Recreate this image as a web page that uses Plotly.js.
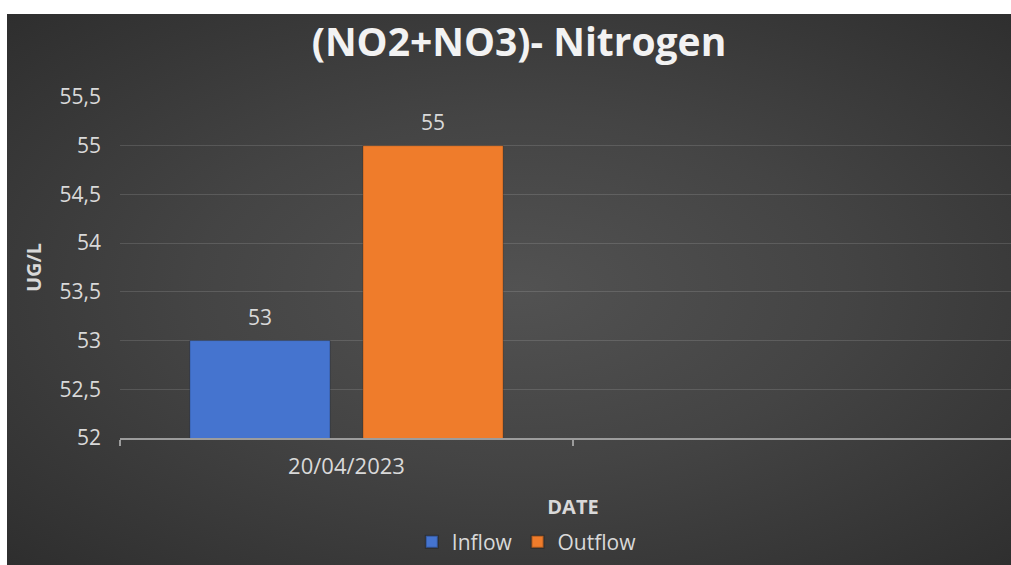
<!DOCTYPE html>
<html>
<head>
<meta charset="utf-8">
<script src="https://cdn.plot.ly/plotly-3.0.1.min.js"></script>
<style>
    html, body { margin: 0; padding: 0; background: #ffffff; overflow: hidden; }
    #grafica-nitrogeno {
        position: absolute;
        left: 7px;
        top: 14px;
        width: 1024px;
        height: 551px;
        background: radial-gradient(ellipse at 50% 50%, #525252 0%, #444444 45%, #2e2e2e 100%);
    }
</style>
</head>
<body>
<div id="grafica-nitrogeno"></div>
<script>
// Datos de la gráfica
const fechas = ['20/04/2023'];
const inflow = [53];
const outflow = [55];
const nombresSeries = ['Inflow', 'Outflow'];
const coloresSeries = ['#4574cf', '#ef7c2b'];

const colorTexto = '#d9d9d9';
const fuente = 'Open Sans, sans-serif';
const bargap = 0.236;
const bargroupgap = 0.19;

const series = [inflow, outflow];

const data = series.map((valores, i) => ({
    x: fechas,
    y: valores,
    name: nombresSeries[i],
    type: 'bar',
    marker: { color: coloresSeries[i], line: { color: 'rgba(0,0,0,0.25)', width: 1 } },
    hoverinfo: 'x+y+name'
}));

// Etiquetas de datos encima de cada barra (posición según el grupo)
const anotaciones = [];
const anchoSlot = (1 - bargap) / series.length;
series.forEach((valores, i) => {
    valores.forEach((v, c) => {
        anotaciones.push({
            x: c + (i - (series.length - 1) / 2) * anchoSlot,
            y: v,
            xref: 'x',
            yref: 'y',
            text: String(v),
            showarrow: false,
            yanchor: 'middle',
            yshift: 24,
            font: { size: 21, color: colorTexto, family: fuente }
        });
    });
});

const layout = {
    title: {
        text: '<b>(NO2+NO3)- Nitrogen</b>',
        font: { family: fuente, size: 39, color: '#f2f2f2' },
        xref: 'container',
        yref: 'container',
        x: 0.5,
        xanchor: 'center',
        y: 0.948,
        yanchor: 'middle'
    },
    separators: ', ',
    paper_bgcolor: 'rgba(0,0,0,0)',
    plot_bgcolor: 'rgba(0,0,0,0)',
    font: { family: fuente, color: colorTexto, size: 21 },
    barmode: 'group',
    bargap: bargap,
    bargroupgap: bargroupgap,
    annotations: anotaciones,
    xaxis: {
        title: { text: '<b>DATE</b>', font: { size: 20, color: colorTexto }, standoff: 21 },
        type: 'category',
        range: [-0.5, 1.5],
        showgrid: false,
        showline: true,
        linecolor: '#9c9c9c',
        linewidth: 2,
        ticks: 'outside',
        tickson: 'boundaries',
        ticklen: 6,
        tickwidth: 2,
        tickcolor: '#9c9c9c',
        tickfont: { size: 22, color: colorTexto },
        ticklabelstandoff: 8,
        zeroline: false,
        automargin: false,
        fixedrange: true
    },
    yaxis: {
        title: { text: '<b>UG/L</b>', font: { size: 20, color: colorTexto }, standoff: 12 },
        range: [52, 55.5],
        dtick: 0.5,
        tick0: 52,
        showgrid: true,
        gridcolor: 'rgba(255,255,255,0.13)',
        gridwidth: 1,
        showline: false,
        zeroline: false,
        ticks: '',
        tickfont: { size: 21, color: colorTexto },
        ticklabelstandoff: 18,
        automargin: false,
        fixedrange: true
    },
    legend: {
        orientation: 'h',
        x: 0.449,
        xanchor: 'center',
        y: -0.305,
        yanchor: 'middle',
        font: { size: 21, color: colorTexto },
        itemwidth: 30,
        itemsizing: 'constant',
        bgcolor: 'rgba(0,0,0,0)'
    },
    showlegend: true,
    hovermode: 'closest',
    margin: { l: 113, r: 5, t: 83, b: 127, pad: 0, autoexpand: false }
};

const config = {
    responsive: false,
    displayModeBar: false
};

Plotly.newPlot('grafica-nitrogeno', data, layout, config);
</script>
</body>
</html>
